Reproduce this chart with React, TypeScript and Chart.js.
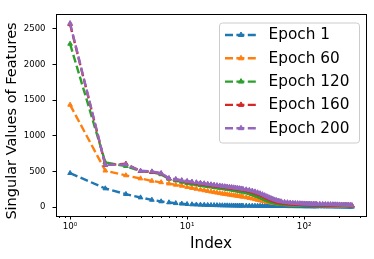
import React, { useEffect, useRef } from "react";
import { Chart, registerables } from "chart.js";

Chart.register(...registerables);

// Singular value index (x positions of the plotted points)
const INDEX = [
  1, 2, 3, 4, 5, 6, 7, 8, 9, 10,
  11, 12, 13, 14, 15, 16, 17, 18, 19, 20,
  21, 22, 23, 24, 25, 26, 27, 28, 29, 30,
  32, 34, 36, 38, 40, 42, 44, 46, 48, 50,
  52, 54, 56, 58, 60, 62, 64,
  68, 72, 76, 80, 84, 88, 92, 96, 100, 104, 108, 112, 116, 120, 124, 128,
  136, 144, 152, 160, 168, 176, 184, 192, 200, 208, 216, 224, 232, 240, 248, 256,
];

const EPOCH_1 = [
  477, 262, 182, 135, 102, 80, 66, 55, 48, 42,
  38, 35, 33, 31, 29, 28, 27, 26, 25, 24,
  23, 23, 22, 22, 21, 21, 20, 20, 20, 19,
  19, 18, 18, 17, 17, 17, 16, 16, 16, 16,
  15, 15, 15, 15, 14, 14, 14,
  14, 13, 13, 13, 12, 12, 12, 12, 11, 11, 11, 11, 11, 10, 10, 10,
  10, 10, 9, 9, 9, 9, 8, 8, 8, 8, 7, 7, 7, 6, 6, 5,
];

const EPOCH_60 = [
  1435, 512, 445, 402, 368, 348, 330, 313, 299, 282,
  268, 256, 245, 235, 226, 217, 209, 202, 195, 189,
  184, 179, 174, 169, 165, 161, 157, 153, 149, 145,
  137, 128, 120, 111, 102, 94, 87, 81, 75, 70,
  65, 61, 57, 53, 50, 47, 45,
  41, 38, 36, 34, 33, 32, 31, 30, 30, 29, 29, 28, 28, 27, 27, 27,
  26, 26, 25, 25, 24, 24, 23, 23, 22, 22, 21, 21, 20, 19, 18, 17,
];

const EPOCH_120 = [
  2290, 628, 575, 505, 490, 460, 398, 374, 354, 338,
  327, 318, 309, 301, 294, 287, 281, 275, 270, 265,
  260, 255, 250, 245, 240, 235, 230, 225, 220, 215,
  205, 194, 182, 169, 155, 141, 127, 113, 100, 88,
  78, 70, 63, 57, 52, 48, 45,
  41, 39, 37, 36, 35, 34, 34, 33, 33, 32, 32, 31, 31, 31, 30, 30,
  30, 29, 29, 28, 28, 27, 27, 26, 26, 25, 25, 24, 23, 22, 21, 20,
];

const EPOCH_160 = [
  2565, 590, 608, 505, 496, 472, 402, 388, 372, 358,
  348, 339, 331, 324, 317, 310, 304, 298, 293, 288,
  283, 278, 274, 270, 266, 262, 258, 254, 250, 246,
  237, 227, 216, 204, 191, 177, 162, 147, 133, 120,
  108, 97, 88, 80, 73, 67, 62,
  56, 52, 49, 47, 45, 43, 42, 41, 40, 39, 39, 38, 38, 37, 37, 36,
  36, 35, 34, 34, 33, 32, 32, 31, 30, 30, 29, 28, 27, 26, 25, 23,
];

const EPOCH_200 = [
  2580, 594, 598, 510, 500, 475, 405, 392, 377, 366,
  357, 348, 340, 333, 326, 319, 313, 307, 302, 297,
  292, 288, 284, 280, 276, 272, 268, 264, 260, 256,
  248, 240, 230, 219, 207, 194, 180, 166, 152, 139,
  127, 116, 106, 97, 90, 84, 79,
  72, 67, 63, 60, 57, 55, 53, 51, 50, 49, 48, 47, 46, 46, 45, 45,
  44, 43, 42, 41, 40, 39, 38, 37, 36, 35, 34, 33, 31, 30, 28, 26,
];

const SERIES_LABELS = ["Epoch 1", "Epoch 60", "Epoch 120", "Epoch 160", "Epoch 200"];
const SERIES_VALUES = [EPOCH_1, EPOCH_60, EPOCH_120, EPOCH_160, EPOCH_200];
const SERIES_COLORS = ["#1f77b4", "#ff7f0e", "#2ca02c", "#d62728", "#9467bd"];

const X_MAJOR_TICKS = [1, 10, 100];
const X_MAJOR_LABELS = ["10⁰", "10¹", "10²"];
const X_MINOR_TICKS = [0.8, 0.9, 2, 3, 4, 5, 6, 7, 8, 9, 20, 30, 40, 50, 60, 70, 80, 90, 200, 300];
const Y_TICKS = [0, 500, 1000, 1500, 2000, 2500];

const X_TITLE = "Index";
const Y_TITLE = "Singular Values of Features";

const FONT = '"DejaVu Sans", sans-serif';
const DASH = [8, 3.4];
const LINE_W = 2.4;

function drawTriangle(ctx: CanvasRenderingContext2D, x: number, y: number, r: number, color: string) {
  ctx.save();
  ctx.setLineDash([]);
  ctx.beginPath();
  ctx.moveTo(x, y - r);
  ctx.lineTo(x + r * 0.866, y + r * 0.5);
  ctx.lineTo(x - r * 0.866, y + r * 0.5);
  ctx.closePath();
  ctx.fillStyle = color;
  ctx.strokeStyle = color;
  ctx.lineWidth = 1;
  ctx.fill();
  ctx.stroke();
  ctx.restore();
}

const decorPlugin = {
  id: "decor",
  afterDraw(chart: any) {
    const ctx: CanvasRenderingContext2D = chart.ctx;
    const area = chart.chartArea;
    const xs = chart.scales.x;
    ctx.save();
    // minor x ticks
    ctx.strokeStyle = "#000";
    ctx.lineWidth = 1;
    ctx.setLineDash([]);
    for (const v of X_MINOR_TICKS) {
      const px = Math.round(xs.getPixelForValue(v)) + 0.5;
      if (px < area.left || px > area.right) continue;
      ctx.beginPath();
      ctx.moveTo(px, area.bottom);
      ctx.lineTo(px, area.bottom + 2);
      ctx.stroke();
    }
    // frame
    ctx.strokeRect(Math.round(area.left) + 0.5, Math.round(area.top) + 0.5,
      Math.round(area.right - area.left), Math.round(area.bottom - area.top));

    // y axis title
    ctx.save();
    ctx.translate(12, 121);
    ctx.rotate(-Math.PI / 2);
    ctx.font = `14.5px ${FONT}`;
    ctx.fillStyle = "#000";
    ctx.textAlign = "center";
    ctx.textBaseline = "middle";
    ctx.fillText(Y_TITLE, 0, 0);
    ctx.restore();

    // legend
    const bx = 219.5, by = 23, bw = 140, bh = 120;
    ctx.beginPath();
    ctx.roundRect(bx, by, bw, bh, 3);
    ctx.fillStyle = "rgba(255,255,255,0.8)";
    ctx.fill();
    ctx.strokeStyle = "#cccccc";
    ctx.lineWidth = 1;
    ctx.stroke();
    chart.data.datasets.forEach((ds: any, i: number) => {
      const y = 35 + i * 23.3;
      ctx.save();
      ctx.strokeStyle = ds.borderColor;
      ctx.lineWidth = LINE_W;
      ctx.setLineDash(DASH);
      ctx.beginPath();
      ctx.moveTo(225, y);
      ctx.lineTo(257, y);
      ctx.stroke();
      ctx.restore();
      drawTriangle(ctx, 241, y, 3, ds.borderColor);
      ctx.fillStyle = "#000";
      ctx.font = `15.3px ${FONT}`;
      ctx.textBaseline = "middle";
      ctx.textAlign = "left";
      ctx.fillText(ds.label, 268.5, y + 0.5);
    });
    ctx.restore();
  },
};

export default function App() {
  const ref = useRef<HTMLCanvasElement | null>(null);
  useEffect(() => {
    document.body.style.margin = "0";
    const canvas = ref.current!;
    Chart.defaults.font.family = FONT;
    Chart.defaults.color = "#000";
    const datasets = SERIES_LABELS.map((label, s) => ({
      label,
      data: INDEX.map((x, i) => ({ x, y: SERIES_VALUES[s][i] })),
      borderColor: SERIES_COLORS[s],
      backgroundColor: SERIES_COLORS[s],
      pointBackgroundColor: SERIES_COLORS[s],
      pointBorderColor: SERIES_COLORS[s],
      borderWidth: LINE_W,
      borderDash: DASH,
      pointStyle: "triangle",
      pointRadius: 2.7,
      pointBorderWidth: 1,
      tension: 0,
      fill: false,
      order: 4 - s,
    }));
    const chart = new Chart(canvas, {
      type: "line",
      data: { datasets } as any,
      options: {
        animation: false,
        responsive: false,
        devicePixelRatio: 1,
        events: [],
        layout: { padding: { top: 14, right: 8, left: 0, bottom: 0 } },
        plugins: { legend: { display: false }, tooltip: { enabled: false } },
        scales: {
          x: {
            type: "logarithmic",
            min: 0.758,
            max: 337.8,
            afterBuildTicks: (scale: any) => {
              scale.ticks = X_MAJOR_TICKS.map((v) => ({ value: v }));
            },
            afterFit: (scale: any) => {
              scale.height = 43;
            },
            ticks: {
              font: { size: 8.7, family: FONT },
              color: "#000",
              padding: 2.5,
              maxRotation: 0,
              autoSkip: false,
              callback: (v: any) => {
                const k = X_MAJOR_TICKS.indexOf(Number(v));
                return k >= 0 ? X_MAJOR_LABELS[k] : "";
              },
            },
            grid: { drawOnChartArea: false, drawTicks: true, tickLength: 3.5, color: "#000", tickColor: "#000" },
            border: { display: false },
            title: {
              display: true,
              text: X_TITLE,
              font: { size: 15.3, family: FONT },
              color: "#000",
              padding: { top: 0, bottom: 5.5 },
            },
          },
          y: {
            type: "linear",
            min: -124,
            max: 2709,
            afterBuildTicks: (scale: any) => {
              scale.ticks = Y_TICKS.map((v) => ({ value: v }));
            },
            afterFit: (scale: any) => {
              scale.width = 56;
            },
            ticks: {
              font: { size: 8.5, family: FONT },
              color: "#000",
              padding: 7,
              autoSkip: false,
              callback: (v: any) => String(v),
            },
            grid: { drawOnChartArea: false, drawTicks: true, tickLength: 3.5, color: "#000", tickColor: "#000" },
            border: { display: false },
            title: { display: false },
          },
        },
      } as any,
      plugins: [decorPlugin],
    });
    return () => chart.destroy();
  }, []);
  return (
    <div style={{ position: "absolute", left: 0, top: 0, width: 374, height: 259 }}>
      <canvas ref={ref} width={374} height={259} style={{ display: "block", width: 374, height: 259 }} />
    </div>
  );
}
